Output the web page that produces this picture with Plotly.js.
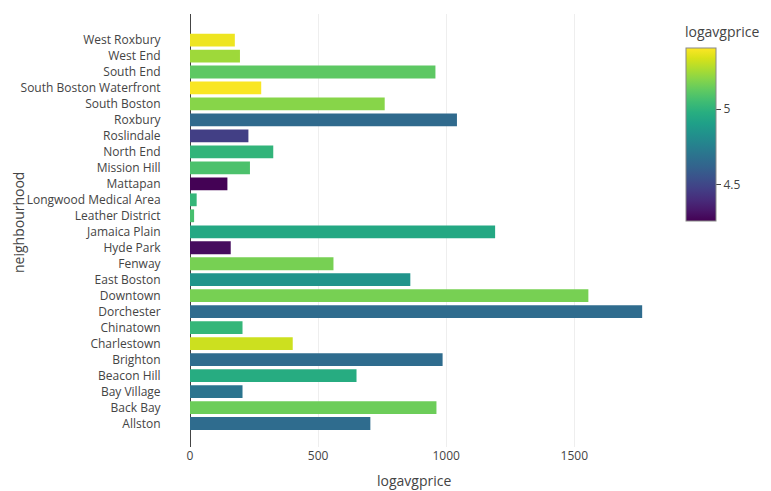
<!DOCTYPE html>
<html>
<head>
<meta charset="utf-8">
<script src="https://cdn.plot.ly/plotly-3.0.1.min.js"></script>
<style>html,body{margin:0;padding:0;background:#fff;}#chart{width:771px;height:491px;}</style>
</head>
<body>
<div id="chart"></div>
<script>
const neighbourhoods = ["Allston","Back Bay","Bay Village","Beacon Hill","Brighton","Charlestown","Chinatown","Dorchester","Downtown","East Boston","Fenway","Hyde Park","Jamaica Plain","Leather District","Longwood Medical Area","Mattapan","Mission Hill","North End","Roslindale","Roxbury","South Boston","South Boston Waterfront","South End","West End","West Roxbury"];
const barTotals = [704, 962, 205, 650, 986, 401, 205, 1765, 1555, 860, 560, 159, 1191, 16, 26, 146, 234, 325, 228, 1042, 760, 278, 958, 195, 175];
const logAvgPrice = [4.66, 5.15, 4.70, 4.97, 4.66, 5.32, 5.02, 4.66, 5.17, 4.85, 5.17, 4.29, 4.95, 5.07, 5.02, 4.26, 5.08, 5.01, 4.47, 4.65, 5.20, 5.40, 5.12, 5.24, 5.38];
const colorTicks = [4.5, 5];
const xTitle = "logavgprice";
const yTitle = "neighbourhood";

const trace = {
  type: "bar",
  orientation: "h",
  x: barTotals,
  y: neighbourhoods,
  marker: {
    color: logAvgPrice,
    colorscale: "Viridis",
    cmin: 4.257,
    cmax: 5.407,
    line: {width: 0},
    colorbar: {
      title: {text: "logavgprice", font: {size: 14, color: "#444"}},
      thickness: 30,
      len: 0.5,
      x: 1.02,
      xanchor: "left",
      y: 1,
      yanchor: "top",
      tickvals: colorTicks,
      ticks: "outside",
      ticklen: 5,
      outlinewidth: 1,
      outlinecolor: "#888",
      tickfont: {size: 12, color: "#444"}
    }
  },
  hoverinfo: "none"
};

const layout = {
  width: 771,
  height: 491,
  margin: {l: 190, r: 105, t: 14, b: 44, autoexpand: false},
  font: {family: "Open Sans, sans-serif", size: 12, color: "#444"},
  paper_bgcolor: "#fff",
  plot_bgcolor: "#fff",
  showlegend: false,
  bargap: 0.2,
  xaxis: {
    tickvals: [0, 500, 1000, 1500],
    gridcolor: "#eee",
    zeroline: true,
    zerolinecolor: "#444",
    zerolinewidth: 1,
    range: [0, 1858]
  },
  yaxis: {
    type: "category",
    categoryorder: "array",
    categoryarray: neighbourhoods,
    range: [-1.47, 25.63],
    showgrid: false,
    zeroline: false,
    ticks: "outside",
    ticklen: 26,
    tickcolor: "rgba(0,0,0,0)"
  },
  annotations: [
    {text: xTitle, xref: "paper", yref: "paper", x: 0.4706, y: -0.0785,
     xanchor: "center", yanchor: "middle", showarrow: false, font: {size: 14, color: "#444"}},
    {text: yTitle, xref: "paper", yref: "paper", x: -0.3613, y: 0.5173, textangle: -90,
     xanchor: "center", yanchor: "middle", showarrow: false, font: {size: 14, color: "#444"}}
  ]
};

Plotly.newPlot("chart", [trace], layout, {displayModeBar: false, staticPlot: true});
</script>
</body>
</html>
